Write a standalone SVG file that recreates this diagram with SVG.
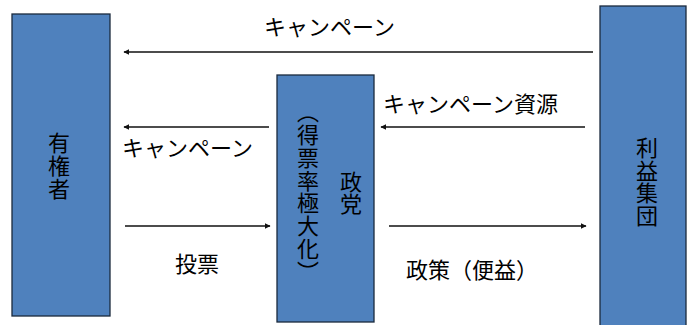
<svg xmlns="http://www.w3.org/2000/svg" width="688" height="325" viewBox="0 0 688 325">
<style>
.box{fill:#4F81BD;stroke:#1b2a3d;stroke-width:1.3}
.t{font-family:"Noto Sans CJK JP","Noto Sans CJK SC",sans-serif;font-size:22px;fill:#000}
.v{writing-mode:vertical-rl;text-anchor:middle;letter-spacing:0.8px}
.h{dominant-baseline:central}
.ln{stroke:#111;stroke-width:1.5;fill:none}
</style>
<defs>
<marker id="ah" viewBox="0 0 10 10" refX="9" refY="5" markerWidth="6" markerHeight="6" markerUnits="userSpaceOnUse" orient="auto">
<path d="M0,0 L10,5 L0,10 z" fill="#111"/>
</marker>
</defs>
<g id="voter">
<rect class="box" x="12" y="14" width="98" height="302"/>
<text class="t v" x="59" y="166">有権者</text>
</g>
<g id="party">
<rect class="box" x="277" y="75" width="97" height="247"/>
<text class="t v" x="308" y="192">（得票率極大化）</text>
<text class="t v" x="351" y="193">政党</text>
</g>
<g id="interest">
<rect class="box" x="600" y="6" width="86" height="330"/>
<text class="t v" x="647" y="182">利益集団</text>
</g>
<g id="connectors">
<line class="ln" x1="593" y1="52" x2="124" y2="52" marker-end="url(#ah)"/>
<line class="ln" x1="269" y1="127" x2="124" y2="127" marker-end="url(#ah)"/>
<line class="ln" x1="585" y1="127" x2="381" y2="127" marker-end="url(#ah)"/>
<line class="ln" x1="125" y1="226" x2="270" y2="226" marker-end="url(#ah)"/>
<line class="ln" x1="389" y1="226" x2="586" y2="226" marker-end="url(#ah)"/>
</g>
<g id="labels">
<text class="t h" x="264" y="25">キャンペーン</text>
<text class="t h" x="122" y="146">キャンペーン</text>
<text class="t h" x="383" y="102">キャンペーン資源</text>
<text class="t h" x="175" y="262">投票</text>
<text class="t h" x="406" y="268">政策（便益）</text>
</g>
</svg>
